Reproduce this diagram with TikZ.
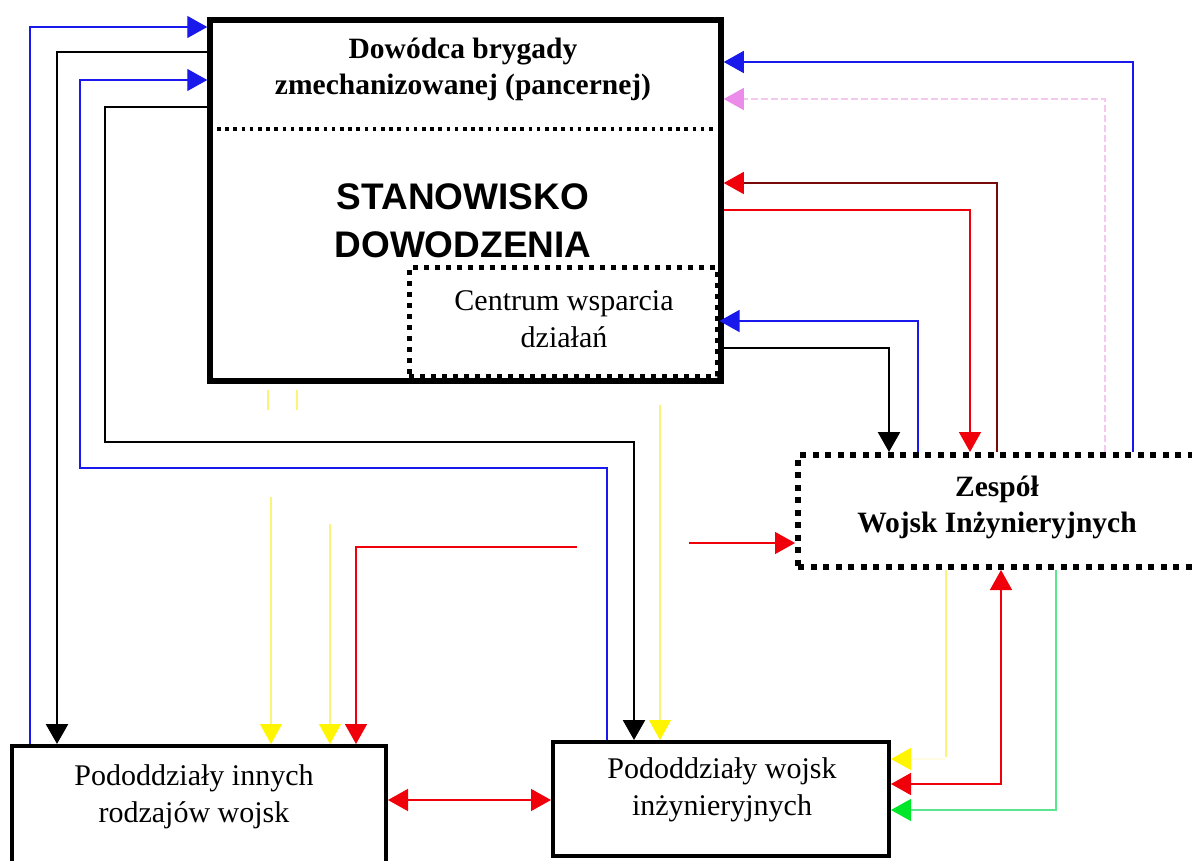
\documentclass[tikz,border=0pt]{standalone}
\usepackage{fontspec}
\setmainfont{Liberation Serif}
\newfontfamily\headsans{Liberation Sans}
\usetikzlibrary{arrows.meta}

\definecolor{bluec}{RGB}{25,25,235}
\definecolor{redc}{RGB}{240,0,10}
\definecolor{darkredc}{RGB}{120,10,10}
\definecolor{yelhead}{RGB}{255,245,0}
\definecolor{yelline}{RGB}{250,245,120}
\definecolor{grnhead}{RGB}{0,230,40}
\definecolor{grnline}{RGB}{90,230,140}
\definecolor{pnkhead}{RGB}{235,140,235}
\definecolor{pnkline}{RGB}{245,200,240}

\begin{document}
\begin{tikzpicture}[x=1pt,y=-1pt,
  solidbox/.style={draw,line width=4pt,inner sep=0pt},
  dotbox/.style={draw,line width=6pt,dash pattern=on 6pt off 6.5pt,inner sep=0pt},
  plain/.style={align=center,font=\fontsize{30}{37}\selectfont},
  boldtxt/.style={align=center,font=\fontsize{29.5}{36}\selectfont\bfseries},
  blk/.style={line width=2.6pt,draw=black,-{Triangle[length=20pt,width=22pt]}},
  blu/.style={line width=1.4pt,draw=bluec,-{Triangle[length=20pt,width=22pt]}},
  rd/.style={line width=1.5pt,draw=redc,-{Triangle[length=20pt,width=22pt]}},
  rdboth/.style={line width=1.5pt,draw=redc,{Triangle[length=20pt,width=22pt]}-{Triangle[length=20pt,width=22pt]}},
  drd/.style={line width=1.4pt,draw=darkredc,-{Triangle[length=20pt,width=22pt,color=redc]}},
  pnk/.style={line width=1.2pt,draw=pnkline,dash pattern=on 7pt off 3pt,-{Triangle[length=20pt,width=22pt,color=pnkhead]}},
  yel/.style={line width=1.2pt,draw=yelline,-{Triangle[length=20pt,width=22pt,color=yelhead]}},
  yelpart/.style={line width=1.2pt,draw=yelline},
  grn/.style={line width=1.2pt,draw=grnline,-{Triangle[length=20pt,width=22pt,color=grnhead]}}
]
\useasboundingbox (0,0) rectangle (1192,861);
\clip (0,0) rectangle (1192,861);
\fill[white] (0,0) rectangle (1192,861);

% command post
\node[draw,line width=5.5pt,minimum width=511pt,minimum height=361pt,inner sep=0pt] (cmd) at (465.5,200.5) {};
\node[boldtxt] (cmdname) at (463,69) {Dowódca brygady\\zmechanizowanej (pancernej)};
\draw[line width=3.5pt,dash pattern=on 3.5pt off 4.7pt] (217,129) -- (716,129);
\node[align=center,font={\headsans\fontsize{37}{48}\selectfont\bfseries}] (post) at (463,221) {STANOWISKO\\DOWODZENIA};

% support centre inside the command post
\node[draw,line width=5pt,dash pattern=on 5pt off 6pt,minimum width=308pt,minimum height=108pt,inner sep=0pt] (cent) at (563,322) {};
\node[plain] (centname) at (564,319) {Centrum wsparcia\\działań};

% engineer team
\node[dotbox,minimum width=398pt,minimum height=112pt] (zesp) at (997,511) {};
\node[boldtxt] (zespname) at (997,507) {Zespół\\Wojsk Inżynieryjnych};

% subunits
\node[solidbox,minimum width=374pt,minimum height=118pt] (botL) at (199,805) {};
\node[plain] (botLname) at (194,797) {Pododdziały innych\\rodzajów wojsk};
\node[solidbox,minimum width=336pt,minimum height=114pt] (botM) at (721,799) {};
\node[plain] (botMname) at (722,790) {Pododdziały wojsk\\inżynieryjnych};

% left-hand links
\draw[blu] (30,0 |- botL.north) |- (cmd.west |- 0,27);
\draw[blk] (cmd.west |- 0,52) -| (57,0 |- botL.north);
\draw[blu] (607,0 |- botM.north) |- (80,468) |- (cmd.west |- 0,80);
\draw[blk] (cmd.west |- 0,107) -| (105,442) -| (634,0 |- botM.north);

% yellow links
\draw[yelpart] (268,390) -- (268,410);
\draw[yelpart] (297,390) -- (297,410);
\draw[yel] (271,497) -- (271,0 |- botL.north);
\draw[yel] (330,524) -- (330,0 |- botL.north);
\draw[yel] (660,405) -- (660,0 |- botM.north);

% red links on the left
\coordinate (rA) at (577,547);
\coordinate (rB) at (689,543);
\draw[rd] (rA) -| (356,0 |- botL.north);
\draw[rd] (rB) -- (zesp.west |- rB);
\draw[rdboth] (botL.east |- 0,800) -- (botM.west |- 0,800);

% right-hand links
\draw[blu] (1133,0 |- zesp.north) |- (cmd.east |- 0,62);
\draw[pnk] (1105,0 |- zesp.north) |- (cmd.east |- 0,99);
\draw[drd] (997,0 |- zesp.north) |- (cmd.east |- 0,183);
\draw[rd] (cmd.east |- 0,210) -| (970,0 |- zesp.north);
\draw[blu] (918,0 |- zesp.north) |- (cent.east |- 0,321);
\draw[blk] (cent.east |- 0,348) -| (889,0 |- zesp.north);

% links below the engineer team
\draw[yelpart] (946,0 |- zesp.south) -- (946,757);
\draw[yel,draw=yelline!20] (946,759) -- (botM.east |- 0,759);
\draw[rdboth] (botM.east |- 0,784) -| (1001,0 |- zesp.south);
\draw[grn] (1056,0 |- zesp.south) |- (botM.east |- 0,810);
\end{tikzpicture}
\end{document}
